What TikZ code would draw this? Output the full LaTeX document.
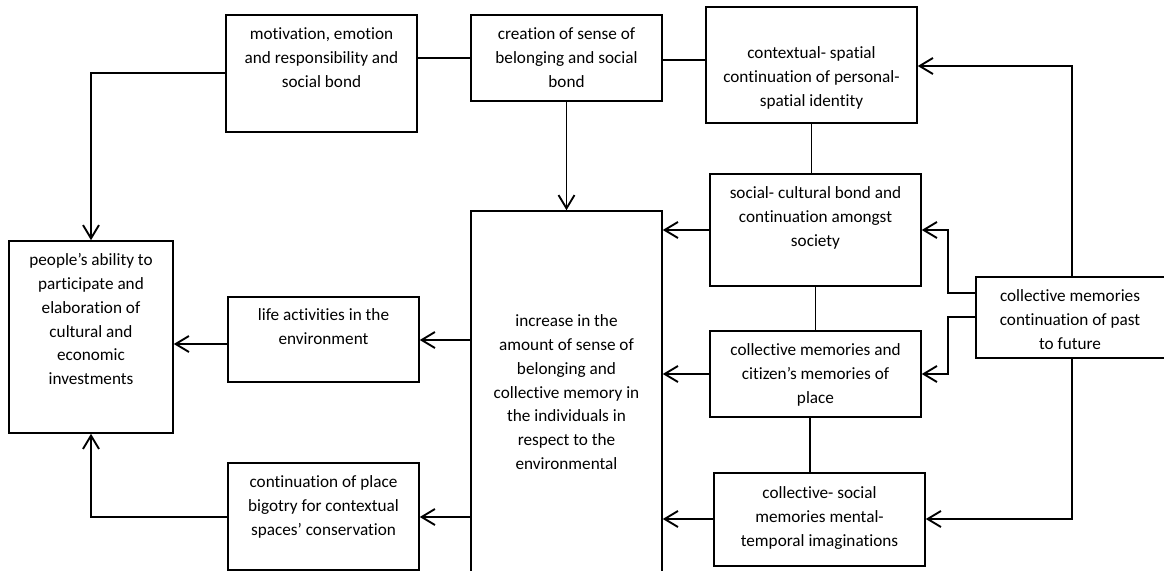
\documentclass[tikz,border=0pt]{standalone}
\usepackage{fontspec}
\setmainfont{Carlito}[Ligatures=NoCommon]
\usetikzlibrary{fit,arrows.meta}
\begin{document}
\begin{tikzpicture}[x=0.75pt,y=-0.75pt,
  box/.style={draw=black,line width=1.2pt,inner sep=0pt,rectangle},
  txt/.style={anchor=north,align=center,inner sep=0pt,font={\fontsize{12.9}{17.8}\selectfont}},
  ln/.style={draw=black,line width=1.4pt},
  arr/.style={draw=black,line width=1.4pt,-{Straight Barb[length=10pt,width=12pt]}}]
\useasboundingbox (0,0) rectangle (1164,571);
\clip (0,0) rectangle (1164,571);
% boxes
\node[box,fit={(226,15) (417,132)}] (A) {};
\node[box,fit={(471,15) (662,101)}] (B) {};
\node[box,fit={(706,7) (917,123)}] (C) {};
\node[box,fit={(710,174) (921,286)}] (D) {};
\node[box,fit={(710,331) (921,417)}] (E) {};
\node[box,fit={(714,473) (925,566)}] (F) {};
\node[box,fit={(976,277) (1180,358)}] (G) {};
\node[box,fit={(471,211) (662,600)}] (H) {};
\node[box,fit={(9,241) (173,433)}] (I) {};
\node[box,fit={(228,297) (419,382)}] (J) {};
\node[box,fit={(228,463) (419,570)}] (K) {};
% texts
\node[txt] (At) at (321.5,23) {\strut motivation, emotion\\and responsibility and\\social bond};
\node[txt] (Bt) at (566.5,23) {\strut creation of sense of\\belonging and social\\bond};
\node[txt] (Ct) at (811.5,42) {\strut contextual- spatial\\continuation of personal-\\spatial identity};
\node[txt] (Dt) at (815.5,182) {\strut social- cultural bond and\\continuation amongst\\society};
\node[txt] (Et) at (815.5,339) {\strut collective memories and\\citizen’s memories of\\place};
\node[txt] (Ft) at (819.5,482) {\strut collective- social\\memories mental-\\temporal imaginations};
\node[txt] (Gt) at (1070,285) {\strut collective memories\\continuation of past\\to future};
\node[txt] (Ht) at (566.5,310) {\strut increase in the\\amount of sense of\\belonging and\\collective memory in\\the individuals in\\respect to the\\environmental};
\node[txt] (It) at (91,249) {\strut people’s ability to\\participate and\\elaboration of\\cultural and\\economic\\investments};
\node[txt] (Jt) at (323.5,304) {\strut life activities in the\\environment};
\node[txt] (Kt) at (323.5,471) {\strut continuation of place\\bigotry for contextual\\spaces’ conservation};
% connectors
\draw[arr] (A.west |- 0,73) -| (I.north);
\draw[ln] (A.east |- 0,58) -- (B.west |- 0,58);
\draw[ln] (B.east |- 0,60) -- (C.west |- 0,60);
\draw[arr] (B.south) -- (H.north);
\draw[ln] (C.south) -- (C.south |- D.north);
\draw[arr] (D.west |- 0,230) -- (H.east |- 0,230);
\draw[ln] (D.south) -- (D.south |- E.north);
\draw[arr] (E.west |- 0,374) -- (H.east |- 0,374);
\draw[ln] (E.south -| 810,0) -- (F.north -| 810,0);
\draw[arr] (F.west |- 0,519) -- (H.east |- 0,519);
\draw[arr] (H.west |- 0,340) -- (J.east |- 0,340);
\draw[arr] (H.west |- 0,517) -- (K.east |- 0,517);
\draw[arr] (J.west |- 0,344) -- (I.east |- 0,344);
\draw[arr] (K.west |- 0,517) -| (I.south);
\coordinate (gd) at (948,293);
\coordinate (ge) at (948,317);
\draw[arr] (G.north -| 1072,0) |- (C.east |- 0,66);
\draw[arr] (G.west |- gd) -- (gd) |- (D.east |- 0,230);
\draw[arr] (G.west |- ge) -- (ge) |- (E.east |- 0,374);
\draw[arr] (G.south -| 1072,0) |- (F.east |- 0,519);
\end{tikzpicture}
\end{document}
